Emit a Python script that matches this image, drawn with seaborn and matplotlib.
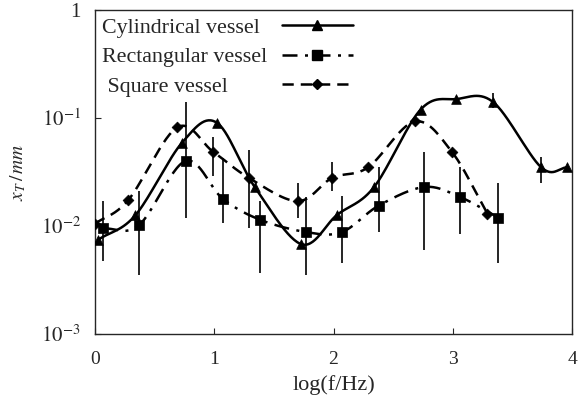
import numpy as np
import pandas as pd
import matplotlib
matplotlib.use('Agg')
import matplotlib.pyplot as plt
from matplotlib.lines import Line2D
import seaborn as sns

# Cylindrical vessel (triangles)
cyl_x = [0.03, 0.34, 0.73, 1.02, 1.34, 1.73, 2.03, 2.34, 2.73, 3.03, 3.34, 3.74, 3.96]
cyl_y = [0.0075, 0.0126, 0.059, 0.091, 0.023, 0.0068, 0.0127, 0.023, 0.12, 0.15, 0.14, 0.035, 0.035]

# Rectangular vessel (squares)
rect_x = [0.07, 0.37, 0.76, 1.07, 1.38, 1.77, 2.07, 2.38, 2.76, 3.06, 3.38]
rect_y = [0.0095, 0.0102, 0.040, 0.018, 0.0115, 0.0088, 0.0088, 0.0155, 0.023, 0.0186, 0.012]

# Square vessel (diamonds)
sq_x = [0.0, 0.28, 0.69, 0.99, 1.29, 1.70, 1.99, 2.29, 2.68, 2.99, 3.29]
sq_y = [0.0105, 0.0174, 0.082, 0.049, 0.028, 0.017, 0.028, 0.035, 0.093, 0.049, 0.013]

# Fehler-Balken: x, unten, oben
err_x = [0.07, 0.37, 0.76, 0.99, 1.07, 1.29, 1.38, 1.70, 1.77, 1.99, 2.07, 2.38, 2.76, 3.06, 3.34, 3.38, 3.74]
err_lo = [0.0048, 0.0035, 0.012, 0.029, 0.0107, 0.0095, 0.0037, 0.012, 0.0035, 0.021, 0.0046, 0.0088, 0.006, 0.0085, 0.125, 0.0046, 0.025]
err_hi = [0.017, 0.021, 0.14, 0.067, 0.043, 0.051, 0.017, 0.025, 0.0186, 0.039, 0.019, 0.035, 0.049, 0.035, 0.17, 0.025, 0.044]

labels = ['Cylindrical vessel', 'Rectangular vessel', ' Square vessel']
x_ticks = [0, 1, 2, 3, 4]
y_ticks = [1e-3, 1e-2, 1e-1, 1]
y_labels = ['$10^{-3}$', '$10^{-2}$', '$10^{-1}$', '1']


def smooth(xs, ys, n=30):
    # Catmull-Rom im log-Raum fuer die glatte Kurve
    x = np.asarray(xs, float)
    y = np.log10(np.asarray(ys, float))
    px = np.concatenate([[2 * x[0] - x[1]], x, [2 * x[-1] - x[-2]]])
    py = np.concatenate([[2 * y[0] - y[1]], y, [2 * y[-1] - y[-2]]])
    out_x, out_y = [], []
    t = np.linspace(0, 1, n, endpoint=False)
    for i in range(1, len(px) - 2):
        for arr, out in ((px, out_x), (py, out_y)):
            p0, p1, p2, p3 = arr[i - 1], arr[i], arr[i + 1], arr[i + 2]
            out.extend(0.5 * (2 * p1 + (-p0 + p2) * t + (2 * p0 - 5 * p1 + 4 * p2 - p3) * t ** 2
                              + (-p0 + 3 * p1 - 3 * p2 + p3) * t ** 3))
    out_x.append(x[-1])
    out_y.append(y[-1])
    return pd.DataFrame({'x': out_x, 'y': 10 ** np.array(out_y)})


sns.set_style('ticks')
plt.rcParams['font.family'] = ['Liberation Serif', 'DejaVu Serif']
plt.rcParams['mathtext.fontset'] = 'stix'

fig = plt.figure(figsize=(5.78, 4.03), dpi=100)
ax = fig.add_axes([0.164, 0.171, 0.826, 0.804])

series = [
    (cyl_x, cyl_y, '-', '^', 7),
    (rect_x, rect_y, (0, (6, 3, 1.2, 3)), 's', 6.5),
    (sq_x, sq_y, (0, (4.5, 2.8)), 'D', 5.5),
]

handles = []
for xs, ys, ls, mk, ms in series:
    curve = smooth(xs, ys)
    sns.lineplot(data=curve, x='x', y='y', ax=ax, color='black', lw=1.8,
                 linestyle=ls, sort=False, estimator=None)
    pts = pd.DataFrame({'x': xs, 'y': ys})
    sns.scatterplot(data=pts, x='x', y='y', ax=ax, color='black', marker=mk,
                    s=ms ** 2, edgecolor='black', linewidth=0.5, zorder=3)
    handles.append(Line2D([], [], color='black', lw=1.8, linestyle=ls,
                          marker=mk, markersize=ms))

ax.vlines(err_x, err_lo, err_hi, color='black', lw=1.2)

ax.set_yscale('log')
ax.set_xlim(0, 4)
ax.set_ylim(1e-3, 1)
ax.set_xticks(x_ticks)
ax.set_xticklabels([str(v) for v in x_ticks])
ax.set_yticks(y_ticks)
ax.set_yticklabels(y_labels)
ax.minorticks_off()
ax.tick_params(direction='in', length=4, width=0.8)
ax.tick_params(axis='y', labelsize=15, pad=10)
ax.tick_params(axis='x', labelsize=14, pad=12)
for sp in ax.spines.values():
    sp.set_linewidth(1.0)

ax.set_xlabel('log(f/Hz)', fontsize=16, labelpad=5)
ax.set_ylabel(r'$x_T\,/\,mm$', fontsize=14, labelpad=9)

# Legende: Texte links, Linien rechts daneben
leg_kw = dict(frameon=False, fontsize=15.8, labelspacing=0.42, borderpad=0.33,
              borderaxespad=0, handletextpad=0, loc='upper left')
blank = [Line2D([], [], lw=0) for _ in labels]
leg1 = ax.legend(blank, labels, bbox_to_anchor=(0.0, 1.0), handlelength=0, **leg_kw)
ax.add_artist(leg1)
ax.legend(handles, [''] * 3, bbox_to_anchor=(0.376, 1.0), handlelength=3.25, **leg_kw)

fig.savefig('out.png', dpi=100)
